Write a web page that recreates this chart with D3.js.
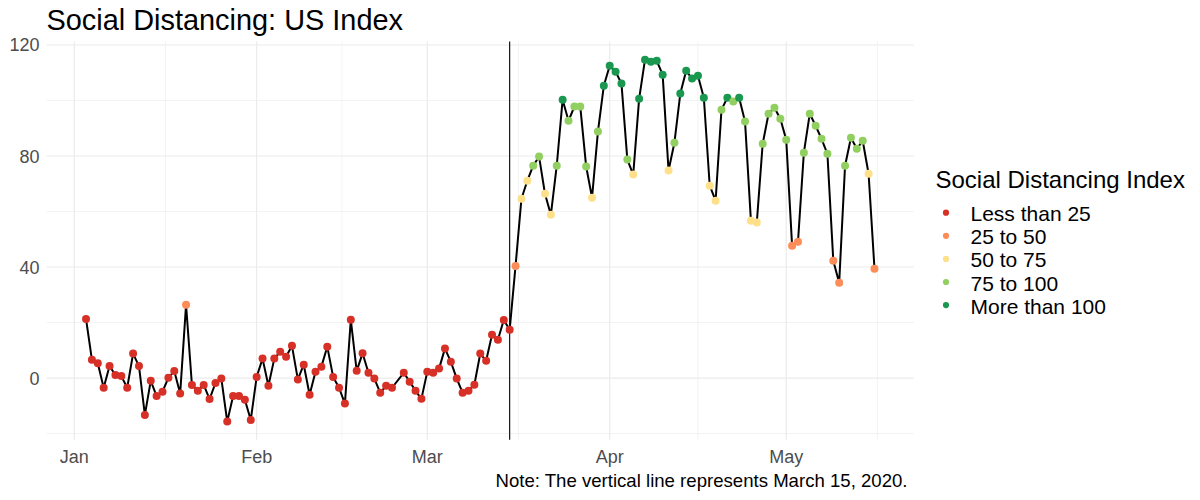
<!DOCTYPE html>
<html>
<head>
<meta charset="utf-8">
<script src="https://cdn.jsdelivr.net/npm/d3@7"></script>
<style>
  html, body { margin: 0; padding: 0; background: #ffffff; }
  svg { display: block; font-family: "Liberation Sans", Arial, sans-serif; }
</style>
</head>
<body>
<svg id="chart" width="1200" height="500"></svg>
<script>
// ---------------- DATA ----------------
const dates = [
  "2020-01-03","2020-01-04","2020-01-05","2020-01-06","2020-01-07","2020-01-08","2020-01-09","2020-01-10",
  "2020-01-11","2020-01-12","2020-01-13","2020-01-14","2020-01-15","2020-01-16","2020-01-17","2020-01-18",
  "2020-01-19","2020-01-20","2020-01-21","2020-01-22","2020-01-23","2020-01-24","2020-01-25","2020-01-26",
  "2020-01-27","2020-01-28","2020-01-29","2020-01-30","2020-01-31",
  "2020-02-01","2020-02-02","2020-02-03","2020-02-04","2020-02-05","2020-02-06","2020-02-07","2020-02-08",
  "2020-02-09","2020-02-10","2020-02-11","2020-02-12","2020-02-13","2020-02-14","2020-02-15","2020-02-16",
  "2020-02-17","2020-02-18","2020-02-19","2020-02-20","2020-02-21","2020-02-22","2020-02-23","2020-02-24",
  "2020-02-26","2020-02-27","2020-02-28","2020-02-29",
  "2020-03-01","2020-03-02","2020-03-03","2020-03-04","2020-03-05","2020-03-06","2020-03-07","2020-03-08",
  "2020-03-09","2020-03-10","2020-03-11","2020-03-12","2020-03-13","2020-03-14","2020-03-15","2020-03-16",
  "2020-03-17","2020-03-18","2020-03-19","2020-03-20","2020-03-21","2020-03-22","2020-03-23","2020-03-24",
  "2020-03-25","2020-03-26","2020-03-27","2020-03-28","2020-03-29","2020-03-30","2020-03-31",
  "2020-04-01","2020-04-02","2020-04-03","2020-04-04","2020-04-05","2020-04-06","2020-04-07","2020-04-08",
  "2020-04-09","2020-04-10","2020-04-11","2020-04-12","2020-04-13","2020-04-14","2020-04-15","2020-04-16",
  "2020-04-17","2020-04-18","2020-04-19","2020-04-20","2020-04-21","2020-04-22","2020-04-23","2020-04-24",
  "2020-04-25","2020-04-26","2020-04-27","2020-04-28","2020-04-29","2020-04-30",
  "2020-05-01","2020-05-02","2020-05-03","2020-05-04","2020-05-05","2020-05-06","2020-05-07","2020-05-08",
  "2020-05-09","2020-05-10","2020-05-11","2020-05-12","2020-05-13","2020-05-14","2020-05-15","2020-05-16"
];
const values = [
  21.3, 6.6, 5.3, -3.5, 4.3, 1.1, 0.7, -3.5,
  8.8, 4.3, -13.3, -1.0, -6.5, -4.9, 0.1, 2.5,
  -5.6, 26.4, -2.5, -4.6, -2.5, -7.6, -1.8, -0.2,
  -15.7, -6.5, -6.5, -7.8, -15.1,
  0.4, 7.0, -2.8, 7.0, 9.5, 7.7, 11.6, -0.5,
  4.8, -6.0, 2.3, 4.1, 11.3, 0.4, -3.5, -9.2,
  21.0, 2.6, 8.9, 1.9, -0.2, -5.3, -2.8, -3.5,
  1.9, -1.3, -4.6, -7.5,
  2.3, 1.9, 3.4, 10.6, 5.9, -0.2, -5.3, -4.6,
  -2.4, 8.8, 6.2, 15.6, 13.8, 20.9, 17.4, 40.4,
  64.6, 71.1, 76.5, 79.8, 66.4, 58.8, 76.5, 100.3,
  92.7, 97.8, 97.8, 76.2, 65.0, 88.8, 105.3,
  112.5, 110.4, 106.1, 78.7, 73.3, 100.6, 114.7, 114.0,
  114.3, 109.3, 74.8, 84.8, 102.5, 110.7, 107.9, 108.9,
  101.0, 69.3, 63.9, 96.7, 101.0, 99.6, 101.0, 92.4,
  56.7, 56.0, 84.4, 95.2, 97.4, 93.4,
  85.9, 47.7, 49.1, 81.2, 95.2, 90.9, 86.2, 80.8,
  42.3, 34.3, 76.5, 86.6, 82.6, 85.5, 73.6, 39.4
];
const categoryLabels = ["Less than 25", "25 to 50", "50 to 75", "75 to 100", "More than 100"];
const categoryBreaks = [25, 50, 75, 100];
const categoryColors = ["#d73027", "#fc8d59", "#fee08b", "#91cf60", "#1a9850"];
const yTicks = [0, 40, 80, 120];
const yMinorTicks = [-20, 20, 60, 100];
const xTickDates = ["2020-01-01", "2020-02-01", "2020-03-01", "2020-04-01", "2020-05-01"];
const xTickLabels = ["Jan", "Feb", "Mar", "Apr", "May"];
const markerDate = "2020-03-15";
const titleText = "Social Distancing: US Index";
const legendTitle = "Social Distancing Index";
const noteText = "Note: The vertical line represents March 15, 2020.";

// ---------------- CHART ----------------
const parse = d3.utcParse("%Y-%m-%d");
const data = dates.map((d, i) => ({ date: parse(d), value: values[i] }));

const panel = { left: 46.6, right: 913.9, top: 41.6, bottom: 439.7 };
const svg = d3.select("#chart");

const xExt = d3.extent(data, d => d.date);
const xPad = (xExt[1] - xExt[0]) * 0.05;
const x = d3.scaleUtc()
  .domain([new Date(+xExt[0] - xPad), new Date(+xExt[1] + xPad)])
  .range([panel.left, panel.right]);

const yExt = d3.extent(values);
const yPad = (yExt[1] - yExt[0]) * 0.05;
const y = d3.scaleLinear()
  .domain([yExt[0] - yPad, yExt[1] + yPad])
  .range([panel.bottom, panel.top]);

const color = d3.scaleThreshold().domain(categoryBreaks).range(categoryColors);

// grid
const grid = svg.append("g");
grid.selectAll(".ymin").data(yMinorTicks).join("line")
  .attr("x1", panel.left).attr("x2", panel.right)
  .attr("y1", d => y(d)).attr("y2", d => y(d))
  .attr("stroke", "#ebebeb").attr("stroke-width", 0.6);
const majorDates = xTickDates.map(parse).concat([parse("2020-06-01")]);
const minorX = d3.pairs(majorDates).map(([a, b]) => new Date((+a + +b) / 2))
  .filter(d => d >= x.domain()[0] && d <= x.domain()[1]);
grid.selectAll(".xmin").data(minorX).join("line")
  .attr("y1", panel.top).attr("y2", panel.bottom)
  .attr("x1", d => x(d)).attr("x2", d => x(d))
  .attr("stroke", "#ebebeb").attr("stroke-width", 0.6);
grid.selectAll(".ymaj").data(yTicks).join("line")
  .attr("x1", panel.left).attr("x2", panel.right)
  .attr("y1", d => y(d)).attr("y2", d => y(d))
  .attr("stroke", "#ebebeb").attr("stroke-width", 1.2);
grid.selectAll(".xmaj").data(xTickDates).join("line")
  .attr("y1", panel.top).attr("y2", panel.bottom)
  .attr("x1", d => x(parse(d))).attr("x2", d => x(parse(d)))
  .attr("stroke", "#ebebeb").attr("stroke-width", 1.2);

// axis labels
svg.append("g").selectAll("text").data(yTicks).join("text")
  .attr("x", 39.5).attr("y", d => y(d) + 6.5)
  .attr("text-anchor", "end").attr("font-size", 18).attr("fill", "#4d4d4d")
  .text(d => d);
svg.append("g").selectAll("text").data(xTickDates).join("text")
  .attr("x", d => x(parse(d))).attr("y", 463)
  .attr("text-anchor", "middle").attr("font-size", 18).attr("fill", "#4d4d4d")
  .text((d, i) => xTickLabels[i]);

// line
const line = d3.line().x(d => x(d.date)).y(d => y(d.value));
svg.append("path").datum(data)
  .attr("d", line).attr("fill", "none")
  .attr("stroke", "#000").attr("stroke-width", 2).attr("stroke-linejoin", "round");

// vertical marker
svg.append("line")
  .attr("x1", x(parse(markerDate))).attr("x2", x(parse(markerDate)))
  .attr("y1", panel.top).attr("y2", panel.bottom)
  .attr("stroke", "#000").attr("stroke-width", 1.1);

// points
svg.append("g").selectAll("circle").data(data).join("circle")
  .attr("cx", d => x(d.date)).attr("cy", d => y(d.value))
  .attr("r", 4).attr("fill", d => color(d.value));

// title
svg.append("text").attr("x", 46.5).attr("y", 29.5)
  .attr("font-size", 28.9).attr("fill", "#000").text(titleText);

// note
svg.append("text").attr("x", 907.5).attr("y", 486.7)
  .attr("text-anchor", "end").attr("font-size", 18.6).attr("fill", "#000").text(noteText);

// legend
const lg = svg.append("g");
lg.append("text").attr("x", 935.5).attr("y", 187.5)
  .attr("font-size", 24).attr("fill", "#000").text(legendTitle);
const items = lg.selectAll("g.item").data(categoryLabels).join("g")
  .attr("transform", (d, i) => `translate(0, ${212.7 + i * 23.1})`);
items.append("circle").attr("cx", 946).attr("cy", 0).attr("r", 3.1)
  .attr("fill", (d, i) => categoryColors[i]);
items.append("text").attr("x", 970.5).attr("y", 8.5)
  .attr("font-size", 21).attr("fill", "#000").text(d => d);
</script>
</body>
</html>
